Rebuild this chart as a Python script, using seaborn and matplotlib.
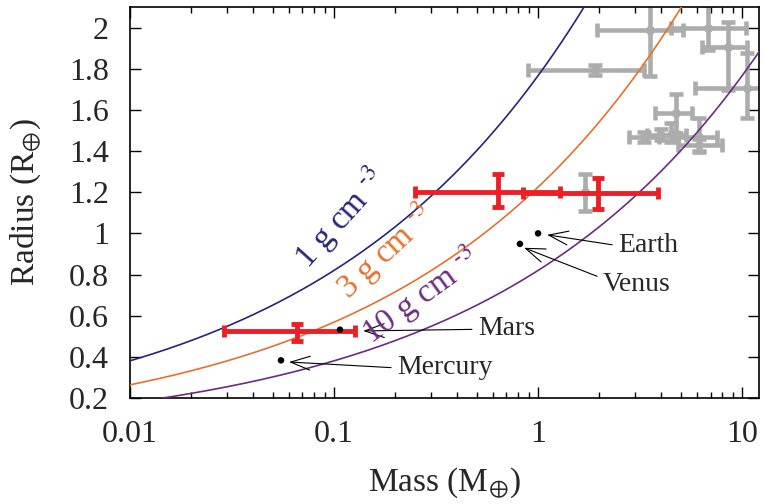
import numpy as np
import pandas as pd
import seaborn as sns
import matplotlib
matplotlib.use("Agg")
import matplotlib.pyplot as plt
from matplotlib.ticker import FixedLocator, LogLocator, FuncFormatter, NullFormatter

# ---------------- data ----------------
densities = [1, 3, 10]                      # g cm^-3
density_colors = ["#25257c", "#e8702f", "#6c2c82"]
density_labels = [r"1 g cm $^{\text{-3}}$", r"3 g cm $^{\text{-3}}$", r"10 g cm $^{\text{-3}}$"]
EARTH_DENSITY = 5.51

planet_names = ["Mercury", "Venus", "Earth", "Mars"]
planet_mass = [0.055, 0.815, 1.0, 0.107]
planet_radius = [0.383, 0.949, 1.0, 0.532]

# red (highlighted) planets
red_mass = [0.0659, 0.637, 1.97]
red_mass_lo = [0.0289, 0.250, 0.844]
red_mass_hi = [0.127, 1.28, 3.87]
red_radius = [0.526, 1.202, 1.195]
red_radius_lo = [0.477, 1.129, 1.12]
red_radius_hi = [0.560, 1.289, 1.27]

# gray (other known) planets
gray_mass = [3.54, 1.90, 6.81, 8.53, 10.6, 4.74, 3.31, 4.00, 4.49, 6.15, 6.15, 1.70]
gray_mass_lo = [1.95, 0.893, 4.5, 6.37, 5.89, 3.75, 2.79, 3.40, 3.90, 4.85, 4.85, 1.70]
gray_mass_hi = [5.14, 3.31, 10.4, 10.6, 19.0, 5.69, 3.93, 4.70, 5.30, 7.53, 8.00, 1.70]
gray_radius = [1.99, 1.795, 2.00, 1.907, 1.708, 1.586, 1.469, 1.479, 1.479, 1.47, 1.43, 1.20]
gray_radius_lo = [1.766, 1.77, 1.893, 1.698, 1.562, 1.489, 1.445, 1.455, 1.445, 1.396, 1.40, 1.11]
gray_radius_hi = [2.22, 1.82, 2.11, 2.029, 1.878, 1.679, 1.495, 1.505, 1.538, 1.562, 1.46, 1.29]

x_ticks = [0.01, 0.1, 1, 10]
y_ticks = [0.2, 0.4, 0.6, 0.8, 1.0, 1.2, 1.4, 1.6, 1.8, 2.0]

# ---------------- style ----------------
sns.set_style("ticks")
plt.rcParams["font.family"] = ["Liberation Serif", "DejaVu Serif"]
plt.rcParams["mathtext.fontset"] = "stix"

fig = plt.figure(figsize=(7.64, 5.04), dpi=100)
ax = fig.add_axes([0.170, 0.2103, 0.8235, 0.7758])
ax.set_xscale("log")

# density curves
mass_grid = np.logspace(-2.1, 1.2, 400)
curve_df = pd.concat([
    pd.DataFrame({"mass": mass_grid,
                  "radius": (mass_grid * EARTH_DENSITY / d) ** (1 / 3),
                  "density": d})
    for d in densities
])
sns.lineplot(data=curve_df, x="mass", y="radius", hue="density",
             palette=dict(zip(densities, density_colors)), legend=False,
             linewidth=1.2, ax=ax, zorder=3, sort=False)

# gray error bars
gm = np.array(gray_mass)
gr = np.array(gray_radius)
ax.errorbar(gm, gr,
            xerr=[gm - np.array(gray_mass_lo), np.array(gray_mass_hi) - gm],
            yerr=[gr - np.array(gray_radius_lo), np.array(gray_radius_hi) - gr],
            fmt="o", color="#acacac", ecolor="#acacac", markersize=5.5,
            elinewidth=3.3, capsize=5, capthick=3.3, zorder=2)

# red error bars
rm = np.array(red_mass)
rr = np.array(red_radius)
ax.errorbar(rm, rr,
            xerr=[rm - np.array(red_mass_lo), np.array(red_mass_hi) - rm],
            yerr=[rr - np.array(red_radius_lo), np.array(red_radius_hi) - rr],
            fmt="s", color="#ea2026", ecolor="#ea2026", markersize=3,
            elinewidth=3.5, capsize=4, capthick=3.5, zorder=4)

# solar system planets
sns.scatterplot(x=planet_mass, y=planet_radius, color="black", s=22,
                edgecolor="none", ax=ax, zorder=5)

# annotations
ann = {
    "Earth": ((1.107, 0.993), (2.47, 0.94), (0.0, 0.5)),
    "Venus": ((0.853, 0.93), (2.08, 0.75), (0.0, 0.75)),
    "Mars": ((0.139, 0.526), (0.508, 0.54), (0.0, 0.45)),
    "Mercury": ((0.0602, 0.375), (0.204, 0.346), (0.0, 0.5)),
}
for name, (tip, txt, rel) in ann.items():
    ax.annotate(name, xy=tip, xytext=txt, ha="left", va="center",
                fontsize=20, zorder=6,
                arrowprops=dict(arrowstyle="->,head_length=0.7,head_width=0.25",
                                color="black", lw=0.8, relpos=rel,
                                shrinkA=2, shrinkB=0))

# density labels
label_pos = [(0.107, 1.071, 48), (0.178, 0.91, 43), (0.264, 0.696, 36)]
for (mx, ry, rot), lab, col in zip(label_pos, density_labels, density_colors):
    ax.text(mx, ry, lab, color=col, fontsize=24, rotation=rot,
            ha="center", va="center", rotation_mode="anchor", zorder=6)

# axes
ax.set_xlim(0.01, 12.1)
ax.set_ylim(0.2, 2.1)
ax.xaxis.set_major_locator(FixedLocator(x_ticks))
ax.xaxis.set_minor_locator(LogLocator(base=10, subs=np.arange(2, 10)))
ax.xaxis.set_major_formatter(FuncFormatter(lambda v, p: f"{v:g}"))
ax.xaxis.set_minor_formatter(NullFormatter())
ax.yaxis.set_major_locator(FixedLocator(y_ticks))
ax.yaxis.set_major_formatter(FuncFormatter(lambda v, p: f"{v:g}"))
ax.tick_params(which="both", direction="in", top=True, right=True,
               labelsize=23, color="black", width=1)
ax.tick_params(axis="x", which="both", pad=16)
ax.tick_params(axis="y", which="both", pad=15)
ax.tick_params(which="major", length=8)
ax.tick_params(which="minor", length=4)
for s in ax.spines.values():
    s.set_linewidth(1.2)
    s.set_color("black")
ax.set_xlabel(r"Mass (M$_{\oplus}$)", fontsize=24, labelpad=12)
ax.set_ylabel(r"Radius (R$_{\oplus}$)", fontsize=24, labelpad=19)

fig.savefig("out.png", dpi=100)
